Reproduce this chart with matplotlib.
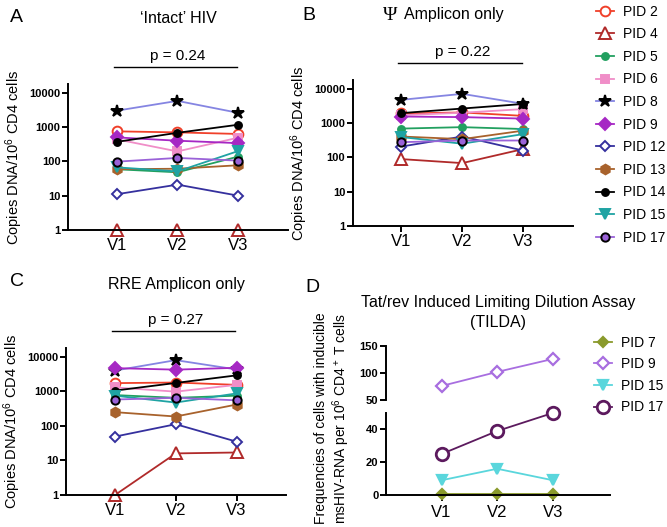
import numpy as np
import matplotlib.pyplot as plt

plt.rcParams['font.family'] = ['Liberation Sans', 'DejaVu Sans']
plt.rcParams['mathtext.fontset'] = 'custom'
plt.rcParams['mathtext.rm'] = 'Liberation Sans'
plt.rcParams['mathtext.it'] = 'Liberation Sans:italic'

visits = ['V1', 'V2', 'V3']

# copies DNA per 10^6 CD4 cells (V1, V2, V3)
pids = ['PID 2', 'PID 4', 'PID 5', 'PID 6', 'PID 8', 'PID 9', 'PID 12',
        'PID 13', 'PID 14', 'PID 15', 'PID 17']
intact = [[750, 700, 630], [1, 1, 1], [59, 48, 138], [440, 195, 490],
          [3000, 5800, 2600], [500, 400, 340], [11, 21, 10], [59, 61, 77],
          [370, 680, 1170], [67, 51, 200], [98, 126, 105]]
psi = [[1900, 2040, 1620], [89, 68, 174], [690, 760, 670], [1700, 2000, 2550],
       [4760, 7100, 3650], [1550, 1490, 1350], [207, 405, 158], [405, 340, 600],
       [1950, 2650, 3600], [390, 250, 475], [277, 310, 310]]
rre = [[1730, 1800, 1540], [1, 16, 17], [780, 650, 750], [1300, 980, 1540],
       [4000, 8000, 4300], [4700, 4250, 4800], [49, 112, 35], [250, 187, 415],
       [1050, 1750, 2900], [750, 475, 870], [580, 650, 550]]
pvals = ['p = 0.24', 'p = 0.22', 'p = 0.27']

# TILDA
tilda_pids = ['PID 7', 'PID 9', 'PID 15', 'PID 17']
tilda = [[0.8, 0.8, 0.8], [76, 102, 126], [9, 16, 9], [25, 39, 50]]

# style per patient: line colour, marker, marker face, marker edge, size
sty = {
    'PID 2': ('#f0402a', 'o', 'white', '#f0402a', 7),
    'PID 4': ('#b02a2a', '^', 'white', '#b02a2a', 8),
    'PID 5': ('#22a060', 'o', '#22a060', '#22a060', 5),
    'PID 6': ('#f08ec8', 's', '#f08ec8', '#f08ec8', 6),
    'PID 8': ('#8585e2', '*', 'black', 'black', 9),
    'PID 9': ('#a628c4', 'D', '#a628c4', '#a628c4', 6),
    'PID 12': ('#35309e', 'D', 'white', '#35309e', 5),
    'PID 13': ('#a8622c', 'h', '#a8622c', '#a8622c', 7),
    'PID 14': ('black', 'o', 'black', 'black', 5),
    'PID 15': ('#1fa3a3', 'v', '#1fa3a3', '#1fa3a3', 7),
    'PID 17': ('#9a62d8', 'o', '#9a62d8', 'black', 6),
}
sty_d = {
    'PID 7': ('#8a9a2c', 'D', '#8a9a2c', '#8a9a2c', 5),
    'PID 9': ('#a86ee0', 'D', 'white', '#a86ee0', 6),
    'PID 15': ('#5ad6dc', 'v', '#5ad6dc', '#5ad6dc', 7),
    'PID 17': ('#5c1a5e', 'o', 'white', '#5c1a5e', 9),
}

x = np.arange(1, 4)
fig = plt.figure(figsize=(6.67, 5.27), dpi=100)


def style_ax(ax):
    for s in ['top', 'right']:
        ax.spines[s].set_visible(False)
    for s in ['left', 'bottom']:
        ax.spines[s].set_linewidth(1.4)
    ax.tick_params(width=1.4, length=4, pad=1.5)
    for lab in ax.get_yticklabels():
        lab.set_fontsize(8)
        lab.set_fontweight('bold')


def log_panel(rect, data, pval):
    ax = fig.add_axes(rect)
    for pid, vals in zip(pids, data):
        c, m, fc, ec, ms = sty[pid]
        ax.plot(x, vals, color=c, marker=m, mfc=fc, mec=ec, ms=ms, mew=1.4,
                lw=1.3, label=pid, clip_on=False)
    ax.set_yscale('log')
    ax.set_ylim(1, 18000)
    ax.set_yticks([1, 10, 100, 1000, 10000])
    ax.set_yticklabels(['1', '10', '100', '1000', '10000'])
    ax.minorticks_off()
    ax.set_xlim(0.2, 3.82)
    ax.set_xticks(x)
    ax.set_xticklabels(visits, fontsize=12)
    ax.tick_params(axis='x', pad=3)
    ax.set_ylabel('Copies DNA/10$^6$ CD4 cells', fontsize=10.5, labelpad=3)
    style_ax(ax)
    # p value bar
    tr = ax.get_xaxis_transform()
    ax.plot([0.95, 2.98], [1.115, 1.115], color='black', lw=1, transform=tr, clip_on=False)
    ax.text(2, 1.19, pval, transform=tr, ha='center', va='center', fontsize=11)
    return ax


axA = log_panel([0.102, 0.5636, 0.3298, 0.277], intact, pvals[0])
axB = log_panel([0.529, 0.5712, 0.3298, 0.277], psi, pvals[1])
axC = log_panel([0.0995, 0.0607, 0.3298, 0.279], rre, pvals[2])

axA.text(0.5, 1.45, "\u2018Intact\u2019 HIV", transform=axA.transAxes, ha='center', va='center', fontsize=11.5)
fig.text(390 / 667, 1 - 15 / 527, '\u03a8', family='Liberation Serif', ha='center', va='center', fontsize=14)
fig.text(404 / 667, 1 - 15 / 527, 'Amplicon only', ha='left', va='center', fontsize=11.5)
axC.text(0.5, 1.43, 'RRE Amplicon only', transform=axC.transAxes, ha='center', va='center', fontsize=11.5)

for lbl, px, py in [('A', 10, 18), ('B', 302, 15), ('C', 10, 282), ('D', 305, 288)]:
    fig.text(px / 667, 1 - py / 527, lbl, ha='left', va='center', fontsize=14)

# legend for A-C
h, l = axA.get_legend_handles_labels()
fig.legend(h, l, loc='upper left', bbox_to_anchor=(590 / 667, 1 + 1 / 527), frameon=False,
           borderaxespad=0, fontsize=10, handlelength=1.35, handletextpad=0.65, labelspacing=0.62)

# D, broken y axis: upper part 50-150, lower part 0-50
axDl = fig.add_axes([386 / 667, 1 - 495 / 527, 224 / 667, 82 / 527])
axDu = fig.add_axes([386 / 667, 1 - 400 / 527, 224 / 667, 54 / 527])
hd = []
for pid, vals in zip(tilda_pids, tilda):
    c, m, fc, ec, ms = sty_d[pid]
    ax = axDu if min(vals) > 50 else axDl
    ln, = ax.plot(x, vals, color=c, marker=m, mfc=fc, mec=ec, ms=ms,
                  mew=1.6 if pid != 'PID 17' else 2, lw=1.3, label=pid, clip_on=False)
    hd.append(ln)
axDl.set_ylim(0, 50)
axDl.set_yticks([0, 20, 40])
axDu.set_ylim(50, 150)
axDu.set_yticks([50, 100, 150])
for ax in (axDl, axDu):
    ax.set_xlim(0, 4.03)
    style_ax(ax)
axDl.set_xticks(x)
axDl.set_xticklabels(visits, fontsize=12)
axDl.tick_params(axis='x', pad=3)
axDu.spines['bottom'].set_visible(False)
axDu.set_xticks([])

fig.text(498 / 667, 1 - 303 / 527, 'Tat/rev Induced Limiting Dilution Assay', ha='center', va='center', fontsize=11.5)
fig.text(498 / 667, 1 - 323 / 527, '(TILDA)', ha='center', va='center', fontsize=11.5)
fig.text(333 / 667, 1 - 418 / 527,
         'Frequencies of cells with inducible\nmsHIV-RNA per 10$^6$ CD4$^+$ T cells',
         rotation=90, ha='center', va='center', fontsize=10, linespacing=1.1)

fig.legend(hd, tilda_pids, loc='upper left', bbox_to_anchor=(588 / 667, 1 - 330 / 527), frameon=False,
           borderaxespad=0, fontsize=10, handlelength=1.35, handletextpad=0.65, labelspacing=0.55)

fig.savefig('out.png', dpi=100)
